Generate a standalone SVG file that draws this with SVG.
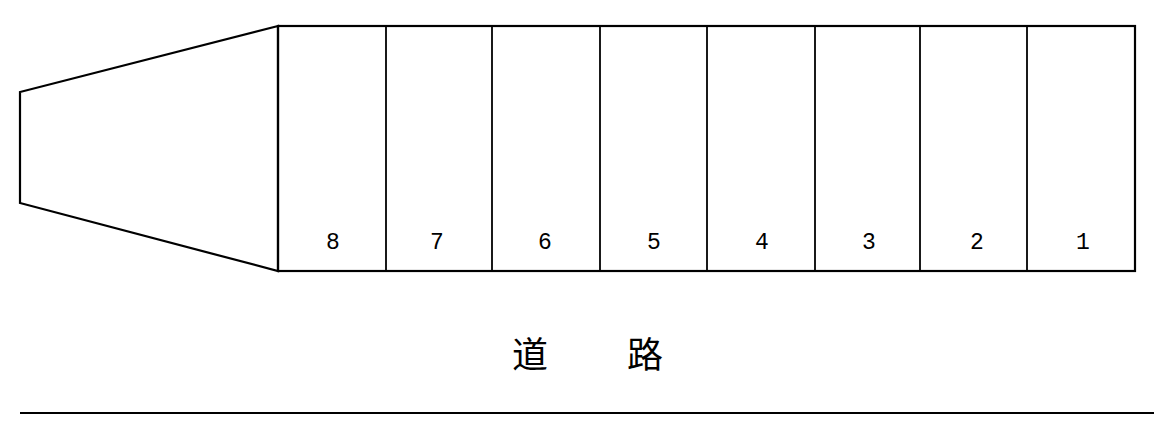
<svg xmlns="http://www.w3.org/2000/svg" width="1175" height="434" viewBox="0 0 1175 434">
<style>
.l{stroke:#000;stroke-width:2.2;fill:none}
.d{stroke:#000;stroke-width:1.8}
.n{font-family:"Liberation Mono","DejaVu Sans Mono",monospace;font-size:23px;text-anchor:middle;fill:#000}
.c{font-family:"Noto Sans CJK SC","Noto Sans CJK JP",sans-serif;font-size:36px;text-anchor:middle;fill:#000}
</style>
<rect width="1175" height="434" fill="#fff"/>
<g id="funnel"><polygon class="l" points="278,26 20,92 20,203 278,271"/></g>
<g id="bays">
<rect class="l" x="278" y="26" width="857" height="245"/>
<line class="d" x1="386" y1="26" x2="386" y2="271"/>
<line class="d" x1="492" y1="26" x2="492" y2="271"/>
<line class="d" x1="600" y1="26" x2="600" y2="271"/>
<line class="d" x1="707" y1="26" x2="707" y2="271"/>
<line class="d" x1="815" y1="26" x2="815" y2="271"/>
<line class="d" x1="920" y1="26" x2="920" y2="271"/>
<line class="d" x1="1027" y1="26" x2="1027" y2="271"/>
</g>
<g id="labels">
<text class="n" x="333" y="249">8</text>
<text class="n" x="437" y="249">7</text>
<text class="n" x="545" y="249">6</text>
<text class="n" x="654" y="249">5</text>
<text class="n" x="762" y="249">4</text>
<text class="n" x="869" y="249">3</text>
<text class="n" x="977" y="249">2</text>
<text class="n" x="1083" y="249">1</text>
</g>
<g id="road">
<text class="c" x="530" y="368">道</text>
<text class="c" x="645" y="368">路</text>
<line class="l" x1="20" y1="413" x2="1154" y2="413"/>
</g>
</svg>
